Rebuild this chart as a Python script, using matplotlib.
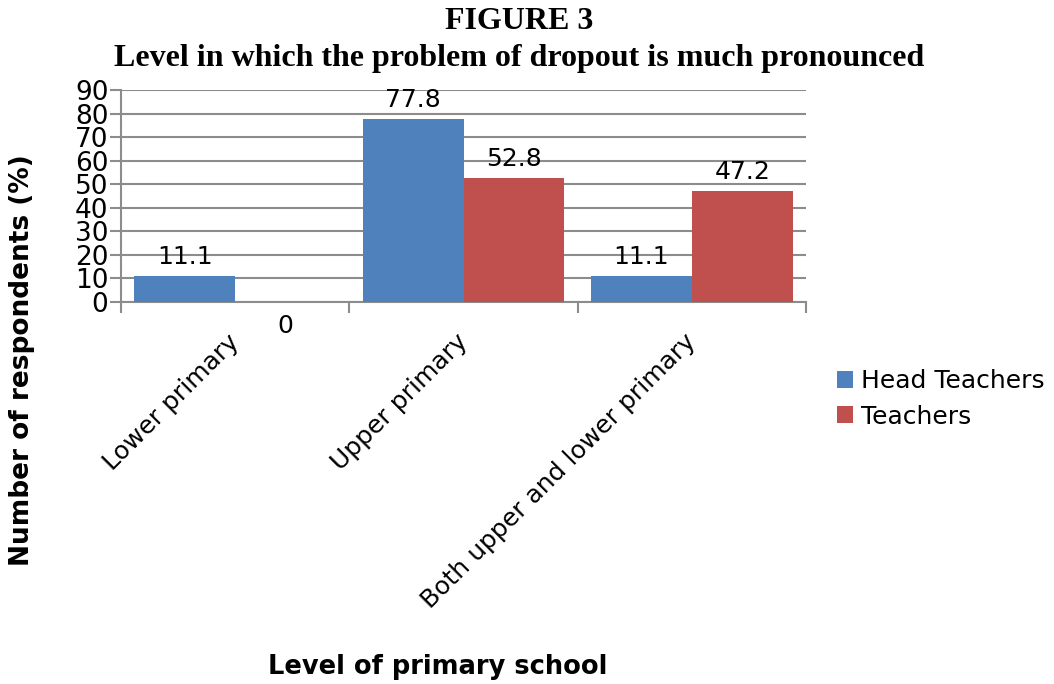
import numpy as np
import matplotlib.pyplot as plt

categories = ["Lower primary", "Upper primary", "Both upper and lower primary"]
head_teachers = [11.1, 77.8, 11.1]
teachers = [0, 52.8, 47.2]
series_names = ["Head Teachers", "Teachers"]
yticks = list(range(0, 91, 10))

plt.rcParams['font.family'] = 'DejaVu Sans'

fig = plt.figure(figsize=(10.54, 6.84), dpi=100)
ax = fig.add_axes([0.1148, 0.5585, 0.65, 0.3099])

grey = '#8c8c8c'
x = np.arange(len(categories))
w = 0.442

b1 = ax.bar(x - w / 2, head_teachers, w, color='#4f81bd', label=series_names[0], zorder=3)
b2 = ax.bar(x + w / 2, teachers, w, color='#c0504d', label=series_names[1], zorder=3)

# value labels, zero values go under the axis
for bars, vals in ((b1, head_teachers), (b2, teachers)):
    for rect, v in zip(bars, vals):
        cx = rect.get_x() + rect.get_width() / 2
        if v > 0:
            ax.annotate(f"{v:g}", (cx, v), xytext=(0, 5), textcoords='offset points',
                        ha='center', va='bottom', fontsize=18)
        else:
            ax.annotate(f"{v:g}", (cx, v), xytext=(0, -9), textcoords='offset points',
                        ha='center', va='top', fontsize=18)

ax.set_xlim(-0.5, len(categories) - 0.5)
ax.set_ylim(0, 90)
ax.set_yticks(yticks)
ax.tick_params(axis='y', labelsize=19, length=8, width=1.5, color=grey, pad=1)
ax.yaxis.grid(True, color=grey, lw=1.5, zorder=0)

ax.set_xticks(x)
ax.set_xticklabels(categories, rotation=45, ha='right', va='center',
                   rotation_mode='anchor', fontsize=18)
ax.tick_params(axis='x', which='major', length=0, pad=26)
ax.set_xticks(np.arange(len(categories) + 1) - 0.5, minor=True)
ax.tick_params(axis='x', which='minor', length=8, width=1.5, color=grey)

for s in ('top', 'right'):
    ax.spines[s].set_visible(False)
for s in ('left', 'bottom'):
    ax.spines[s].set_color(grey)
    ax.spines[s].set_linewidth(1.5)

fig.text(0.493, 0.968, "FIGURE 3", ha='center', va='center', fontsize=23,
         fontweight='bold', family='Liberation Serif')
fig.text(0.493, 0.914, "Level in which the problem of dropout is much pronounced",
         ha='center', va='center', fontsize=23, fontweight='bold', family='Liberation Serif')

fig.text(0.021, 0.474, "Number of respondents (%)", rotation=90, ha='center', va='center',
         fontsize=19, fontweight='bold')
fig.text(0.415, 0.025, "Level of primary school", ha='center', va='center',
         fontsize=18.5, fontweight='bold')

fig.legend(loc='upper left', bbox_to_anchor=(0.773, 0.493), frameon=False, fontsize=18,
           handlelength=0.65, handleheight=0.65, handletextpad=0.3, labelspacing=0.45)

fig.savefig("out.png", dpi=100)
